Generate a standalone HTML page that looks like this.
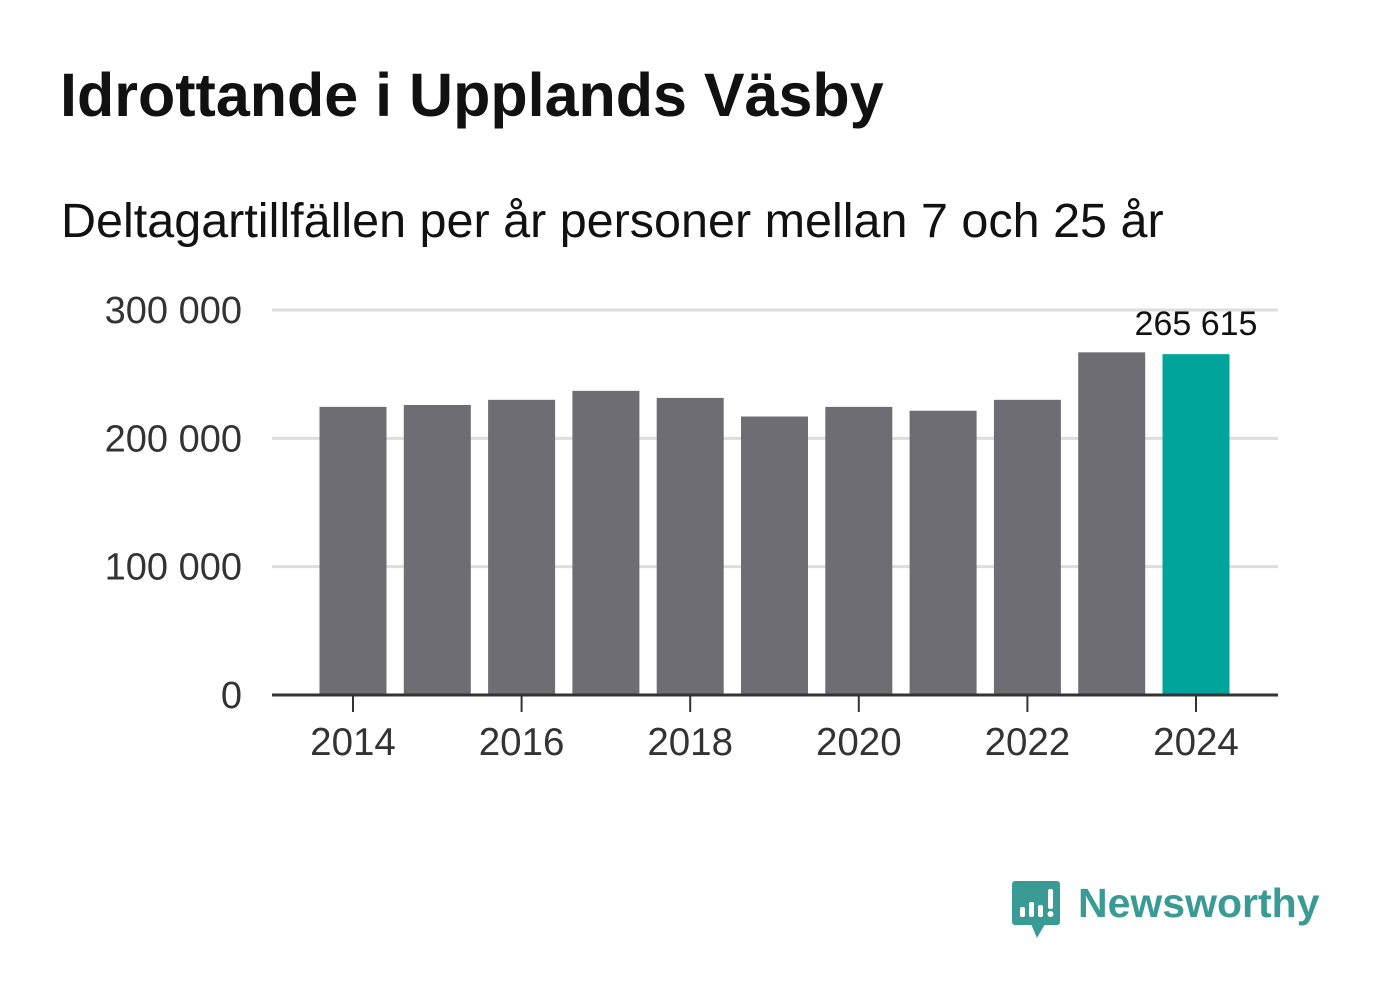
<!DOCTYPE html>
<html><head><meta charset="utf-8"><style>
body{margin:0;width:1382px;height:999px;background:#fff;font-family:"Liberation Sans",sans-serif;overflow:hidden;position:relative}
#title{position:absolute;left:60px;top:60px;font-size:61px;font-weight:bold;color:#111;margin:0}
#sub{position:absolute;left:61px;top:193px;font-size:48.5px;color:#111}
</style></head><body>
<h1 id="title">Idrottande i Upplands Väsby</h1>
<div id="sub">Deltagartillfällen per år personer mellan 7 och 25 år</div>
<svg id="chart" width="1382" height="999" style="position:absolute;left:0;top:0"></svg>
<svg width="60" height="62" viewBox="0 0 60 62" style="position:absolute;left:1011px;top:880px">
<rect x="1" y="1" width="48" height="44" rx="3" fill="#3a9a94"/><polygon points="20,44 34,44 26,58" fill="#3a9a94"/>
<rect x="9" y="27" width="5" height="10" rx="2" fill="#fff"/><rect x="18" y="22" width="5" height="15" rx="2" fill="#fff"/><rect x="27" y="25" width="5" height="12" rx="2" fill="#fff"/><rect x="37" y="9" width="5" height="20" rx="2" fill="#fff"/><circle cx="39.5" cy="34" r="3" fill="#fff"/>
</svg>
<div style="position:absolute;left:1078px;top:880px;font-size:41px;font-weight:bold;color:#3a9a94">Newsworthy</div>
<script>
const years=[2014,2015,2016,2017,2018,2019,2020,2021,2022,2023,2024];
const values=[224500,226000,230000,237000,231500,217000,224500,221500,230000,267000,265615];
const yTicks=[0,100000,200000,300000];
const yTickLabels=["0","100 000","200 000","300 000"];
const xTickYears=[2014,2016,2018,2020,2022,2024];
const highlightLabel="265 615";
const NS="http://www.w3.org/2000/svg";
const svg=document.getElementById('chart');
const y=v=>695-v*(385/300000);
const x=yr=>353+(yr-2014)*84.3;
function mk(t,a){const e=document.createElementNS(NS,t);for(const k in a)e.setAttribute(k,a[k]);svg.appendChild(e);return e;}
yTicks.forEach((t,i)=>{
  if(t>0){const g=mk('line',{x1:272,x2:1278,y1:y(t),y2:y(t),stroke:'#dddddd','stroke-width':3});
  
  }
  const l=mk('text',{x:242,y:y(t)+13,'text-anchor':'end','font-size':38,fill:'#333','font-family':'Liberation Sans'});
  l.textContent=yTickLabels[i];
  
  
});
values.forEach((v,i)=>{
  const last=i===values.length-1;
  const b=mk('rect',{x:x(years[i])-33.5,y:y(v),width:67,height:695-y(v),fill:last?'#00a49a':'#6e6d73'});
  
  
});
const vl=mk('text',{x:x(2024),y:y(values[10])-19,'text-anchor':'middle','font-size':34,fill:'#111','font-family':'Liberation Sans'});
vl.textContent=highlightLabel;


const ax=mk('line',{x1:272,x2:1278,y1:695,y2:695,stroke:'#333','stroke-width':3});


xTickYears.forEach(yr=>{
  const t=mk('line',{x1:x(yr),x2:x(yr),y1:695,y2:712,stroke:'#333','stroke-width':2});
  
  
  const l=mk('text',{x:x(yr),y:755,'text-anchor':'middle','font-size':38.5,fill:'#333','font-family':'Liberation Sans'});
  l.textContent=yr;
  
  
});
</script>
</body></html>
